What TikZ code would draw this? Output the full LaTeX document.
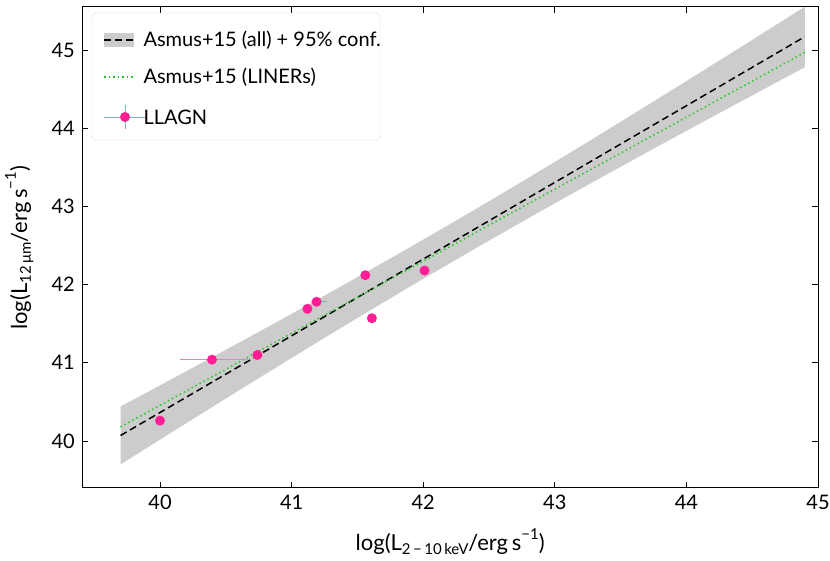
\documentclass[tikz,border=0pt]{standalone}
\usepackage{fontspec}
\setmainfont{Lato}
\newcommand{\lsub}[1]{\raisebox{-0.35ex}{\fontsize{15}{15}\selectfont #1}}
\newcommand{\lsup}[1]{\raisebox{1.0ex}{\fontsize{15}{15}\selectfont #1}}
\definecolor{pk}{RGB}{255,30,150}
\definecolor{ebar}{RGB}{250,120,190}
\definecolor{gr}{RGB}{40,200,40}
\definecolor{band}{RGB}{204,204,204}
\begin{document}
\begin{tikzpicture}
\useasboundingbox (0pt,0pt) rectangle (830pt,561pt);
\begin{scope}[x=131.6pt,y=78.2pt,shift={(-5104pt,-3008pt)},
  tick/.style={line width=0.8pt},
  lab/.style={font=\fontsize{20}{20}\selectfont},
  pt/.style={circle,fill=pk,inner sep=0pt,minimum size=10pt}]
% band
\fill[band] plot[domain=39.7:44.9,samples=40] (\x,{40.07+0.98*(\x-39.7)+sqrt(0.0625+0.012*(\x-42.2)^2)})
  -- plot[domain=44.9:39.7,samples=40] (\x,{40.07+0.98*(\x-39.7)-sqrt(0.0625+0.012*(\x-42.2)^2)}) -- cycle;
\draw[black,line width=1.5pt,dash pattern=on 7pt off 4pt] (39.7,40.07) -- (44.9,45.17);
\draw[gr,line width=1.5pt,dash pattern=on 1.5pt off 3pt] (39.7,40.18) -- (44.9,44.97);
% data
\foreach \x/\y/\xl/\xh/\n in {40.00/40.26/0.02/0.02/a,40.395/41.04/0.245/0.275/b,40.74/41.10/0.02/0.02/c,41.12/41.69/0.03/0.03/d,41.19/41.78/0.04/0.08/e,41.56/42.12/0.02/0.02/f,41.61/41.57/0.02/0.02/g,42.01/42.18/0.02/0.02/h}{
  \draw[ebar,line width=0.9pt] (\x-\xl,\y) -- (\x+\xh,\y) (\x,\y-0.05) -- (\x,\y+0.05);
  \node[pt] (\n) at (\x,\y) {};
}
% frame
\draw[line width=1pt] (39.41,39.40) rectangle (45,45.55);
\foreach \x in {40,...,45}{
  \draw[tick] (\x,39.40) -- ++(0,6pt) (\x,45.55) -- ++(0,-6pt);
  \node[lab,anchor=north] at (\x,39.40) [yshift=-4pt] {\x};}
\foreach \y in {40,...,45}{
  \draw[tick] (39.41,\y) -- ++(6pt,0) (45,\y) -- ++(-6pt,0);
  \node[lab,anchor=east] at (39.41,\y) [xshift=-4pt] {\y};}
\node[font=\fontsize{22}{22}\selectfont] (xl) at (42.205,39.40) [yshift=-54pt] {log(L\lsub{2\,−\,10\,keV}/erg\,s\lsup{−1})};
\coordinate (yc) at (39.41,42.47);
\node[font=\fontsize{22}{22}\selectfont,rotate=90] (yl) at ([xshift=-63pt]yc) {log(L\lsub{12\,μm}/erg\,s\lsup{−1})};
\end{scope}
% legend
\draw[black!15,rounded corners=4pt,fill=white,fill opacity=0.8] (92pt,421pt) rectangle (380pt,548pt);
\fill[band] (104pt,514pt) rectangle (134pt,528pt);
\draw[line width=1.5pt,dash pattern=on 7pt off 4pt] (104pt,521pt) -- (134pt,521pt);
\draw[gr,line width=1.5pt,dash pattern=on 1.5pt off 3pt] (104pt,484pt) -- (134pt,484pt);
\draw[ebar,line width=0.9pt] (104pt,444pt) -- (146pt,444pt);
\draw[ebar,line width=0.9pt] (125pt,432pt) -- (125pt,456pt);
\node[circle,fill=pk,inner sep=0pt,minimum size=10pt] (lg) at (125pt,444pt) {};
\begin{scope}[every node/.style={anchor=west,font=\fontsize{20}{20}\selectfont}]
\node (t1) at (140pt,521pt) {Asmus+15 (all) + 95\% conf.};
\node (t2) at (140pt,484pt) {Asmus+15 (LINERs)};
\node (t3) at (140pt,444pt) {LLAGN};
\end{scope}
\end{tikzpicture}
\end{document}
